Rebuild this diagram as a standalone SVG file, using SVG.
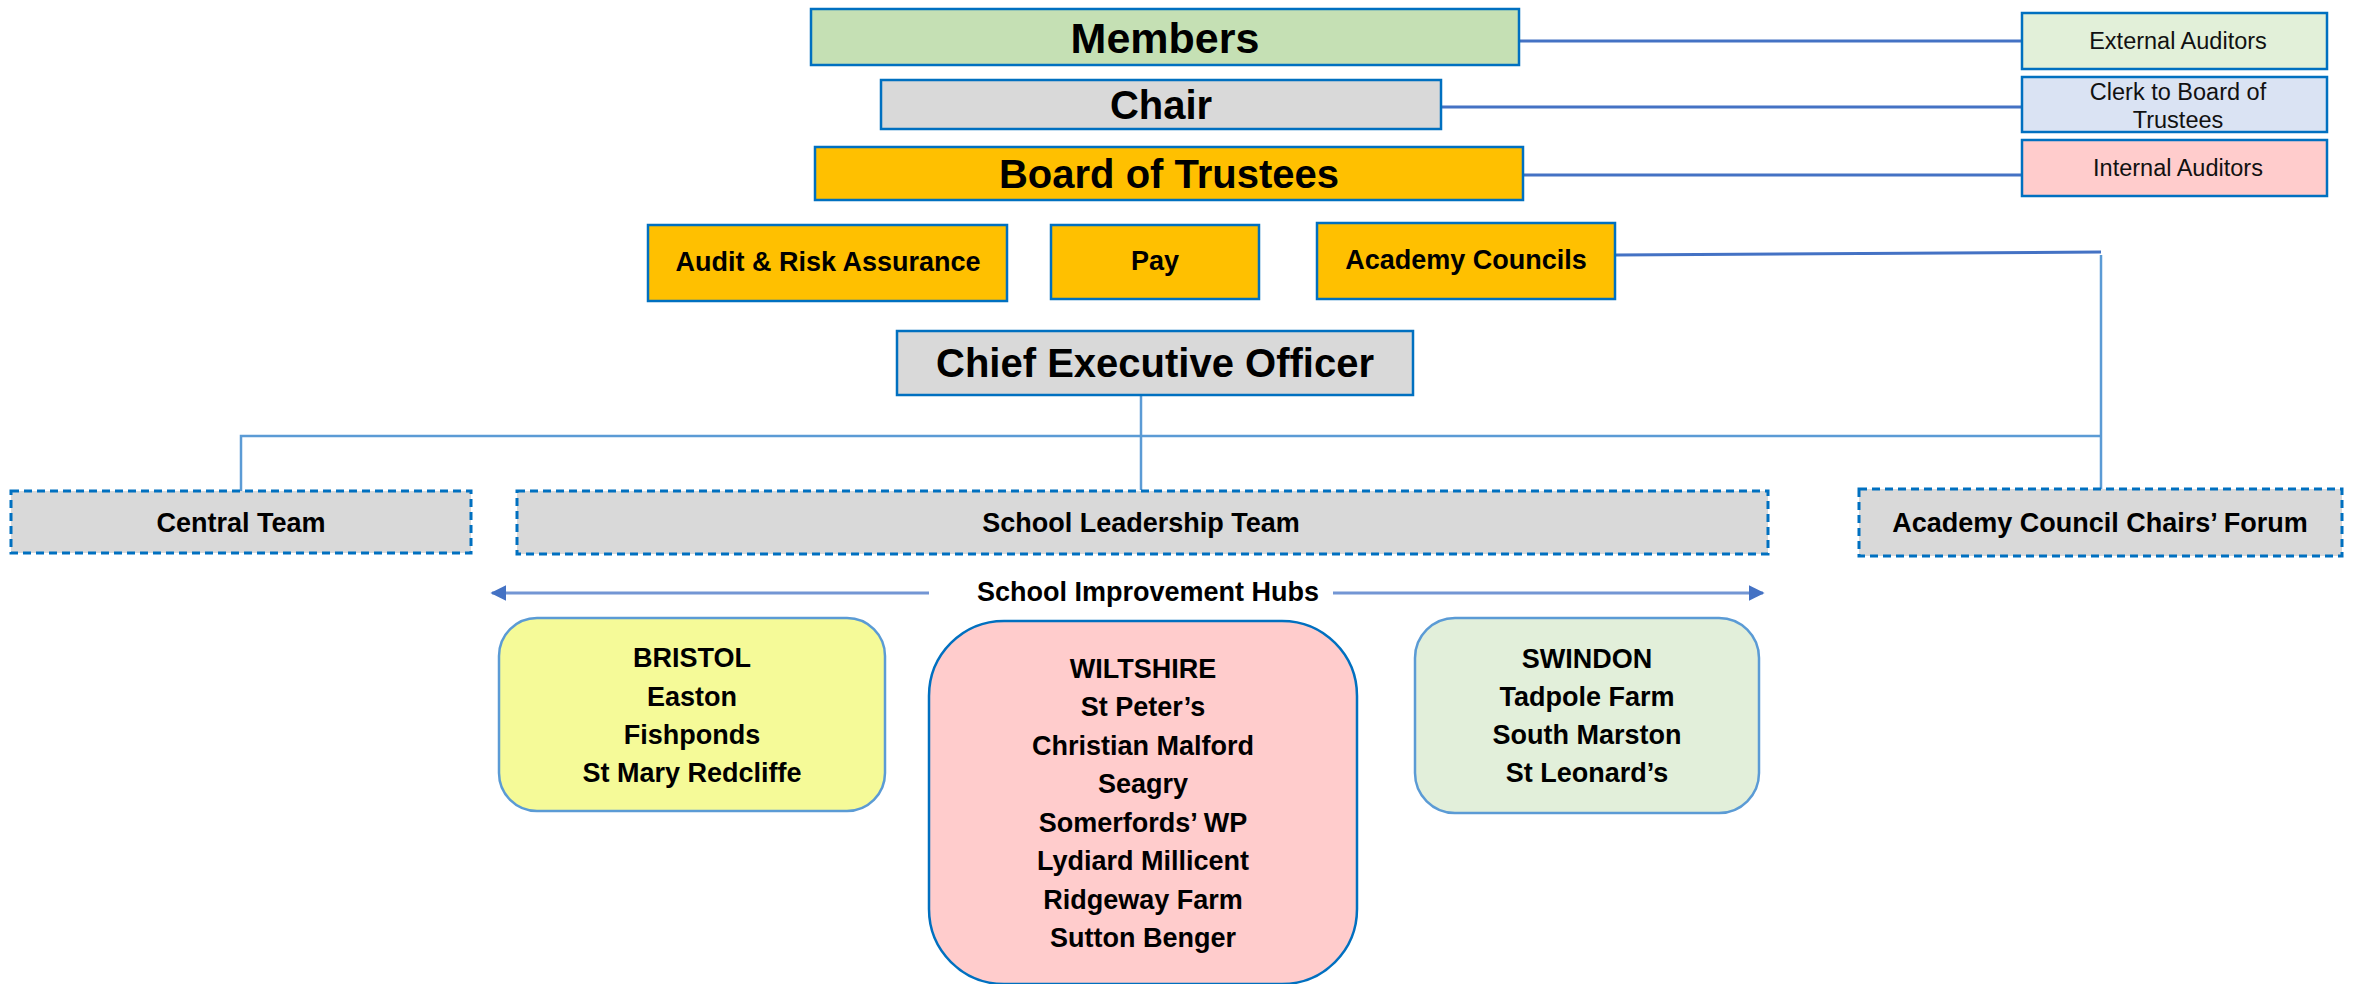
<svg xmlns="http://www.w3.org/2000/svg" width="2357" height="984" viewBox="0 0 2357 984">
<style>
text{font-family:"Liberation Sans",Arial,sans-serif;font-weight:bold;fill:#000;text-anchor:middle;dominant-baseline:central}
.sm{font-weight:normal;font-size:23.5px;fill:#111}
.box{stroke:#0070C0;stroke-width:2.5}
.dash{stroke:#0070C0;stroke-width:3;stroke-dasharray:8,5;fill:#D9D9D9}
.c1{stroke:#4472C4;stroke-width:3;fill:none}
.c2{stroke:#5B9BD5;stroke-width:2.5;fill:none}
.hub{font-size:27px}
</style>
<defs>
<marker id="ah" viewBox="0 0 10 10" refX="9" refY="5" markerWidth="16" markerHeight="16" markerUnits="userSpaceOnUse" orient="auto-start-reverse"><path d="M0,0 L10,5 L0,10 z" fill="#4472C4"/></marker>
</defs>
<rect width="2357" height="984" fill="#fff"/>
<g id="connectors">
<line class="c1" x1="1519" y1="41" x2="2022" y2="41"/>
<line class="c1" x1="1441" y1="107" x2="2022" y2="107"/>
<line class="c1" x1="1523" y1="175" x2="2022" y2="175"/>
<line class="c1" x1="1616" y1="255" x2="2101" y2="252"/>
<line class="c2" x1="2101" y1="255" x2="2101" y2="489"/>
<line class="c2" x1="1141" y1="395" x2="1141" y2="490"/>
<polyline class="c2" points="241,491 241,436 2101,436"/>
<line stroke="#7396D4" stroke-width="3" x1="492" y1="593" x2="929" y2="593" marker-start="url(#ah)"/>
<line stroke="#7396D4" stroke-width="3" x1="1333" y1="593" x2="1763" y2="593" marker-end="url(#ah)"/>
</g>
<g id="members"><rect class="box" x="811" y="9" width="708" height="56" fill="#C5E0B4"/><text x="1165" y="38" font-size="43">Members</text></g>
<g id="chair"><rect class="box" x="881" y="80" width="560" height="49" fill="#D9D9D9"/><text x="1161" y="105" font-size="40">Chair</text></g>
<g id="board"><rect class="box" x="815" y="147" width="708" height="53" fill="#FFC000"/><text x="1169" y="174" font-size="40">Board of Trustees</text></g>
<g id="ext-auditors"><rect class="box" x="2022" y="13" width="305" height="56" fill="#E2F0D9"/><text class="sm" x="2178" y="41">External Auditors</text></g>
<g id="clerk"><rect class="box" x="2022" y="77" width="305" height="55" fill="#DAE3F3"/><text class="sm" x="2178" y="92">Clerk to Board of</text><text class="sm" x="2178" y="120">Trustees</text></g>
<g id="int-auditors"><rect class="box" x="2022" y="140" width="305" height="56" fill="#FFCCCC"/><text class="sm" x="2178" y="168">Internal Auditors</text></g>
<g id="audit"><rect class="box" x="648" y="225" width="359" height="76" fill="#FFC000"/><text x="828" y="262" font-size="27">Audit &amp; Risk Assurance</text></g>
<g id="pay"><rect class="box" x="1051" y="225" width="208" height="74" fill="#FFC000"/><text x="1155" y="261" font-size="27">Pay</text></g>
<g id="academy-councils"><rect class="box" x="1317" y="223" width="298" height="76" fill="#FFC000"/><text x="1466" y="260" font-size="27">Academy Councils</text></g>
<g id="ceo"><rect class="box" x="897" y="331" width="516" height="64" fill="#D9D9D9"/><text x="1155" y="363" font-size="40">Chief Executive Officer</text></g>
<g id="central-team"><rect class="dash" x="11" y="491" width="460" height="62"/><text x="241" y="523" font-size="27">Central Team</text></g>
<g id="school-leadership"><rect class="dash" x="517" y="491" width="1251" height="63"/><text x="1141" y="523" font-size="27">School Leadership Team</text></g>
<g id="chairs-forum"><rect class="dash" x="1859" y="489" width="483" height="67"/><text x="2100" y="523" font-size="27">Academy Council Chairs’ Forum</text></g>
<g id="hubs-label"><text x="1148" y="592" font-size="27">School Improvement Hubs</text></g>
<g id="bristol"><rect x="499" y="618" width="386" height="193" rx="38" fill="#F5FA98" stroke="#5B9BD5" stroke-width="2.5"/>
<text class="hub" x="692" y="658">BRISTOL</text><text class="hub" x="692" y="697">Easton</text><text class="hub" x="692" y="735">Fishponds</text><text class="hub" x="692" y="773">St Mary Redcliffe</text></g>
<g id="wiltshire"><rect x="929" y="621" width="428" height="363" rx="75" fill="#FFCCCC" stroke="#0070C0" stroke-width="2.5"/>
<text class="hub" x="1143" y="669">WILTSHIRE</text><text class="hub" x="1143" y="707">St Peter’s</text><text class="hub" x="1143" y="746">Christian Malford</text><text class="hub" x="1143" y="784">Seagry</text><text class="hub" x="1143" y="823">Somerfords’ WP</text><text class="hub" x="1143" y="861">Lydiard Millicent</text><text class="hub" x="1143" y="900">Ridgeway Farm</text><text class="hub" x="1143" y="938">Sutton Benger</text></g>
<g id="swindon"><rect x="1415" y="618" width="344" height="195" rx="40" fill="#E2EFDA" stroke="#5B9BD5" stroke-width="2.5"/>
<text class="hub" x="1587" y="659">SWINDON</text><text class="hub" x="1587" y="697">Tadpole Farm</text><text class="hub" x="1587" y="735">South Marston</text><text class="hub" x="1587" y="773">St Leonard’s</text></g>
</svg>
